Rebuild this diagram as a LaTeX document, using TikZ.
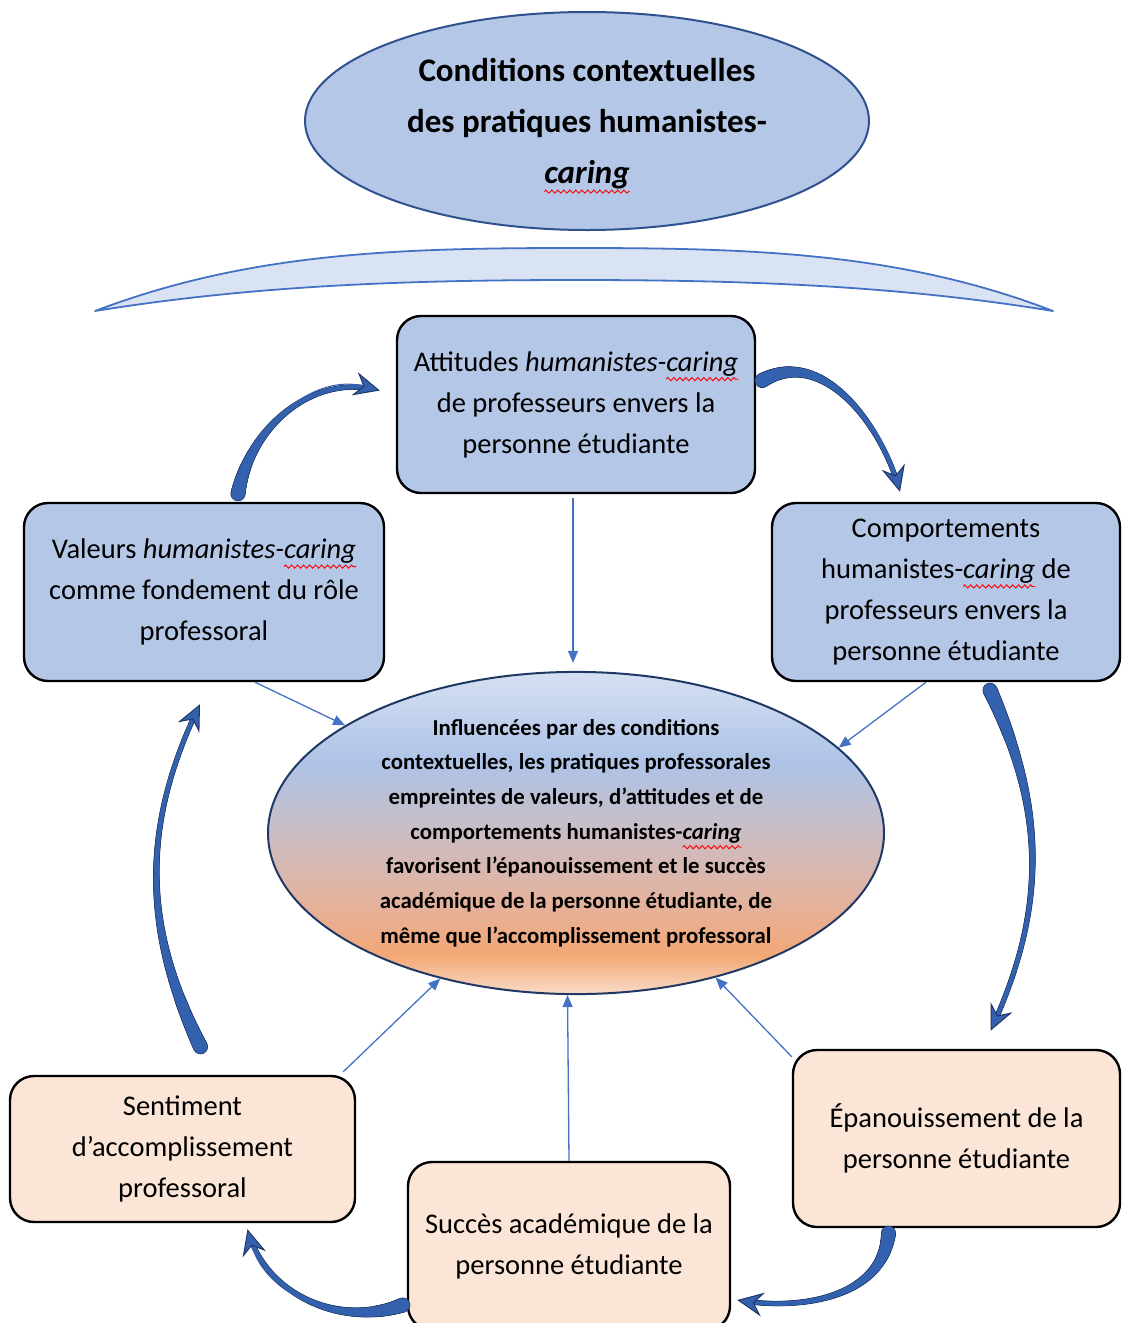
\documentclass[tikz,border=0pt]{standalone}
\usepackage{fontspec}
\setmainfont{Carlito}
\usetikzlibrary{shapes.geometric,arrows.meta,decorations.markings,decorations.pathmorphing,positioning}

\definecolor{titlefill}{HTML}{B4C7E7}
\definecolor{titledraw}{HTML}{2F528F}
\definecolor{arcfill}{HTML}{DAE3F3}
\definecolor{arcdraw}{HTML}{4472C4}
\definecolor{boxblue}{HTML}{B4C7E7}
\definecolor{boxpeach}{HTML}{FBE5D6}
\definecolor{thinblue}{HTML}{4472C4}
\definecolor{bigfill}{HTML}{3461AD}
\definecolor{bigedge}{HTML}{1F3864}
\definecolor{centredraw}{HTML}{1F3864}
\definecolor{ctop}{HTML}{D6E0F3}
\definecolor{cblue}{HTML}{AEC3E7}
\definecolor{cmauve}{HTML}{CBBDC5}
\definecolor{csalmon}{HTML}{E6B198}
\definecolor{corange}{HTML}{F3A775}
\definecolor{cbot}{HTML}{F9DCC8}

\pgfdeclareverticalshading{centreshade}{100bp}{color(0bp)=(cbot); color(25bp)=(cbot);
  color(31bp)=(corange); color(38bp)=(csalmon); color(50bp)=(cmauve);
  color(61bp)=(cblue); color(75bp)=(ctop); color(100bp)=(ctop)}

% red spell-check wave under a word
\newsavebox\squigbox
\newcommand\squig[1]{\sbox\squigbox{#1}\usebox\squigbox\tikz[overlay,baseline=0pt]{\draw[draw=red, fill=none,
  line width=0.9pt, sharp corners, decorate, decoration={zigzag,segment length=6pt,amplitude=1.6pt}]
  (-\wd\squigbox,-8pt) -- (0pt,-8pt);}}

\tikzset{
  box/.style={draw=black, line width=2.4pt, rounded corners=24pt, align=center,
    inner sep=0pt, font=\fontsize{28.5}{41}\selectfont},
  bluebox/.style={box, fill=boxblue},
  peachbox/.style={box, fill=boxpeach},
  thinarrow/.style={draw=thinblue, line width=1.3pt, -{Triangle[length=12pt,width=10pt]}},
  bigarrow/.style={
    postaction={decorate, decoration={markings,
      mark=between positions 0 and 0.95 step 1pt with {%
        \pgfmathsetmacro\rr{2.0+4.8*(1-\pgfkeysvalueof{/pgf/decoration/mark info/distance from start}/\pgfdecoratedpathlength)^3}%
        \fill[bigedge] (0,0) circle (\rr pt+0.7pt);}}},
    postaction={decorate, decoration={markings,
      mark=between positions 0 and 0.95 step 1pt with {%
        \pgfmathsetmacro\rr{2.0+4.8*(1-\pgfkeysvalueof{/pgf/decoration/mark info/distance from start}/\pgfdecoratedpathlength)^3}%
        \fill[bigfill] (0,0) circle (\rr pt);}}},
    postaction={draw=bigfill, line width=1pt,
      -{Stealth[length=26pt,width=24pt,inset=9pt,fill=bigfill,color=bigedge,line width=1pt]}}
  }
}

\begin{document}
\begin{tikzpicture}[x=1pt,y=1pt]
  \useasboundingbox (0,0) rectangle (1122,-1323);

  % title
  \node (titre) [ellipse, draw=titledraw, line width=2pt, fill=titlefill,
    minimum width=564pt, minimum height=218pt, inner sep=0pt, align=center, text depth=0pt,
    font=\bfseries\fontsize{33}{51}\selectfont] at (587,-121)
    {Conditions contextuelles\\des pratiques humanistes-\\\squig{\textit{caring}}};

  % arc under the title
  \filldraw[draw=arcdraw, fill=arcfill, line width=1.8pt, line join=round]
    (95,-311) .. controls (250,-252) and (400,-248) .. (575,-248)
    .. controls (750,-248) and (900,-252) .. (1053,-311)
    .. controls (900,-286) and (750,-280) .. (575,-280)
    .. controls (400,-280) and (250,-286) .. (95,-311) -- cycle;

  % boxes
  \node (attitudes) [bluebox, minimum width=358pt, minimum height=177pt] at (576,-404.5)
    {Attitudes \textit{humanistes-\squig{caring}}\\de professeurs envers la\\personne étudiante};
  \node (valeurs) [bluebox, minimum width=360pt, minimum height=178pt] at (204,-592)
    {Valeurs \textit{humanistes-\squig{caring}}\\comme fondement du rôle\\professoral};
  \node (comport) [bluebox, minimum width=348pt, minimum height=178pt] at (946,-592)
    {Comportements\\humanistes-\squig{\textit{caring}} de\\professeurs envers la\\personne étudiante};
  \node (sentiment) [peachbox, minimum width=345pt, minimum height=146pt] at (182.5,-1149)
    {Sentiment\\d’accomplissement\\professoral};
  \node (succes) [peachbox, minimum width=322pt, minimum height=168pt] at (569,-1246)
    {Succès académique de la\\personne étudiante};
  \node (epan) [peachbox, minimum width=327pt, minimum height=177pt] at (956.5,-1138.5)
    {Épanouissement de la\\personne étudiante};

  % centre
  \node (centre) [ellipse, draw=centredraw, line width=2pt, shade, shading=centreshade,
    minimum width=616pt, minimum height=300pt, inner sep=0pt, align=center,
    font=\bfseries\fontsize{22.8}{34.7}\selectfont] at (576,-833)
    {Influencées par des conditions\\contextuelles, les pratiques professorales\\empreintes de valeurs, d’attitudes et de\\comportements humanistes-\squig{\textit{caring}}\\favorisent l’épanouissement et le succès\\académique de la personne étudiante, de\\même que l’accomplissement professoral};

  % thin arrows
  \draw[thinarrow] ([xshift=-3pt,yshift=-4pt]attitudes.south) -- ([xshift=-3pt,yshift=8pt]centre.north);
  \draw[thinarrow] ([xshift=51pt]valeurs.south) -- (centre.155);
  \draw[thinarrow] ([xshift=-20pt]comport.south) -- (centre.18);
  \draw[thinarrow] ([xshift=-13pt,yshift=3pt]sentiment.north east) -- (centre.227);
  \draw[thinarrow] (succes.north) -- (centre.267);
  \draw[thinarrow] ([yshift=-8pt]epan.north west) -- (centre.-46);

  % curved arrows
  \path[bigarrow] ([xshift=34pt,yshift=8pt]valeurs.north) to[out=80,in=165] ([xshift=-16pt,yshift=14pt]attitudes.west);
  \path[bigarrow] ([xshift=6pt,yshift=24pt]attitudes.east) to[out=30,in=105] ([xshift=-46pt,yshift=10pt]comport.north);
  \path[bigarrow] ([xshift=44pt,yshift=-8pt]comport.south) to[out=-65,in=65] ([xshift=34pt,yshift=18pt]epan.north);
  \path[bigarrow] ([xshift=-68pt,yshift=-5pt]epan.south) to[out=-95,in=-10] ([xshift=6pt,yshift=-54pt]succes.east);
  \path[bigarrow] ([xshift=-4pt,yshift=-59pt]succes.west) to[out=200,in=-75] ([xshift=65pt,yshift=-6pt]sentiment.south);
  \path[bigarrow] ([xshift=18pt,yshift=28pt]sentiment.north) to[out=116,in=-116] ([xshift=-4pt,yshift=-22pt]valeurs.south);
\end{tikzpicture}
\end{document}
